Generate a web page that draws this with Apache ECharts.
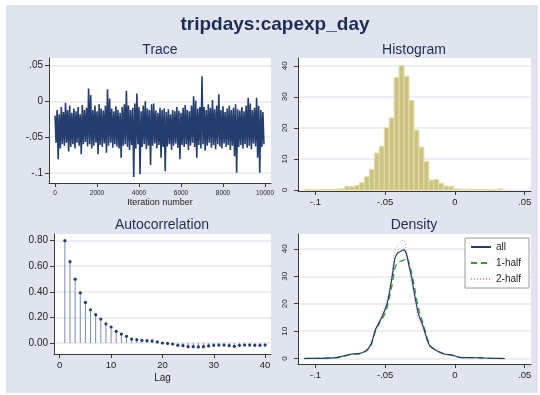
<!DOCTYPE html>
<html>
<head>
<meta charset="utf-8">
<title>tripdays:capexp_day</title>
<script src="https://cdn.jsdelivr.net/npm/echarts@6.0.0/dist/echarts.min.js"></script>
<style>
  html, body { margin: 0; padding: 0; background: #fff; }
  #chart { width: 540px; height: 395px; }
</style>
</head>
<body>
<div id="chart"></div>
<script>
// trace: highest / lowest draw in each block of 100 iterations
var traceStep = 100
var traceHi = [-0.02, -0.012, -0.018, -0.008, -0.015, -0.002, -0.012, -0.006, -0.016, -0.01,
  -0.014, -0.008, -0.018, -0.005, -0.012, -0.009, 0.018, 0.009, -0.012, -0.006,
  -0.014, -0.004, -0.01, -0.013, -0.006, 0.017, 0.004, -0.01, -0.014, -0.007,
  -0.012, -0.016, -0.008, -0.004, 0.015, -0.006, -0.012, -0.009, -0.003, 0.011,
  -0.008, -0.014, -0.006, 0.0, -0.01, -0.012, -0.004, -0.003, -0.013, -0.016,
  -0.009, -0.012, -0.01, -0.015, -0.011, -0.018, -0.012, -0.014, -0.008, -0.013,
  -0.016, -0.009, -0.005, -0.012, -0.014, -0.006, 0.007, 0.001, -0.01, -0.008,
  0.035, -0.008, -0.012, -0.004, -0.009, 0.002, -0.011, -0.006, 0.01, -0.012,
  -0.007, -0.015, -0.01, -0.006, -0.012, -0.009, -0.004, -0.011, -0.013, -0.008,
  -0.014, -0.006, 0.005, -0.003, -0.012, -0.009, 0.005, -0.006, -0.012, -0.015]
var traceLo = [-0.058, -0.081, -0.066, -0.06, -0.062, -0.058, -0.07, -0.064, -0.06, -0.066,
  -0.058, -0.062, -0.074, -0.06, -0.057, -0.063, -0.06, -0.066, -0.062, -0.058,
  -0.074, -0.061, -0.064, -0.059, -0.072, -0.062, -0.058, -0.065, -0.06, -0.063,
  -0.066, -0.079, -0.062, -0.06, -0.064, -0.068, -0.061, -0.106, -0.066, -0.06,
  -0.102, -0.064, -0.06, -0.067, -0.062, -0.089, -0.062, -0.059, -0.066, -0.061,
  -0.079, -0.064, -0.098, -0.063, -0.06, -0.068, -0.062, -0.059, -0.065, -0.081,
  -0.061, -0.064, -0.06, -0.068, -0.062, -0.058, -0.064, -0.079, -0.061, -0.066,
  -0.06, -0.069, -0.062, -0.058, -0.065, -0.061, -0.067, -0.06, -0.063, -0.066,
  -0.059, -0.064, -0.061, -0.068, -0.062, -0.077, -0.1, -0.064, -0.061, -0.066,
  -0.06, -0.065, -0.062, -0.067, -0.059, -0.063, -0.079, -0.1, -0.064, -0.06]
var traceXTicks = [0, 2000, 4000, 6000, 8000, 10000]
var traceYTicks = [-0.1, -0.05, 0, 0.05]
var traceYLabels = ['-.1', '-.05', '0', '.05']

// histogram, 40 bins
var histStart = -0.1075
var histWidth = 0.00355
var histHeights = [0.2, 0.1, 0.1, 0.2, 0.1, 0.2, 0.3, 0.4, 1.1, 1.2,
  1.5, 2.4, 4.3, 6.7, 11.9, 14.1, 20.1, 23.2, 36.2, 40.0,
  36.6, 28.8, 19.3, 13.8, 9.2, 3.2, 3.4, 2.2, 1.3, 1.2,
  0.4, 0.3, 0.2, 0.3, 0.2, 0.2, 0.1, 0.1, 0.1, 0.4]
var histYTicks = [0, 10, 20, 30, 40]
var paramXTicks = [-0.1, -0.05, 0, 0.05]
var paramXLabels = ['-.1', '-.05', '0', '.05']

// autocorrelation
var acfLags = [1, 2, 3, 4, 5, 6, 7, 8, 9, 10, 11, 12, 13, 14, 15, 16, 17, 18, 19, 20,
  21, 22, 23, 24, 25, 26, 27, 28, 29, 30, 31, 32, 33, 34, 35, 36, 37, 38, 39, 40]
var acfValues = [0.8, 0.636, 0.499, 0.392, 0.317, 0.26, 0.221, 0.187, 0.15, 0.125,
  0.091, 0.07, 0.052, 0.031, 0.026, 0.021, 0.018, 0.016, 0.008, 0.0,
  -0.003, -0.008, -0.018, -0.021, -0.029, -0.029, -0.031, -0.029, -0.023, -0.018,
  -0.016, -0.016, -0.021, -0.026, -0.018, -0.016, -0.016, -0.018, -0.018, -0.016]
var acfXTicks = [0, 10, 20, 30, 40]
var acfYTicks = [0, 0.2, 0.4, 0.6, 0.8]

// density
var densX = [-0.108, -0.1, -0.092, -0.085, -0.081, -0.075, -0.068, -0.063, -0.06, -0.057,
  -0.054, -0.05, -0.048, -0.045, -0.043, -0.041, -0.039, -0.037, -0.035, -0.033,
  -0.031, -0.029, -0.026, -0.023, -0.018, -0.013, -0.008, -0.002, 0.002, 0.006,
  0.011, 0.018, 0.025, 0.0357]
var densAll = [0.05, 0.1, 0.2, 0.4, 0.8, 1.6, 1.9, 3.2, 5.5, 10.5,
  13.4, 18, 21.3, 30, 36.5, 38.5, 39, 39.6, 38.5, 34,
  29.5, 23.5, 16, 12, 4.6, 2.9, 1.7, 1.3, 0.6, 0.4,
  0.4, 0.3, 0.15, 0.05]
var densHalf1 = [0.05, 0.1, 0.2, 0.4, 0.6, 1.5, 1.8, 3.0, 5.0, 10.0,
  13.0, 16.5, 20, 27, 33, 35, 35.5, 35.8, 36.8, 35,
  31, 26, 18, 13, 5, 3.0, 1.8, 1.2, 0.6, 0.4,
  0.4, 0.3, 0.15, 0.05]
var densHalf2 = [0.05, 0.1, 0.2, 0.4, 0.9, 1.7, 2.0, 3.4, 5.8, 10.8,
  14, 19.5, 23, 32, 39, 41.5, 42.5, 43.2, 40, 33,
  27, 21.5, 14, 11, 4.2, 2.8, 1.6, 1.4, 0.6, 0.4,
  0.4, 0.3, 0.15, 0.05]
var densYTicks = [0, 10, 20, 30, 40]

var FONT = '"Liberation Sans", Arial, sans-serif'
var NAVY = '#243d6e'
var AXIS = '#3a3a3a'
var GRIDLINE = '#e4e8f0'

function lookup(ticks, labels) {
  return function (v) {
    for (var i = 0; i < ticks.length; i++) {
      if (Math.abs(ticks[i] - v) < 1e-9) return labels[i]
    }
    return ''
  }
}

function axis(gridIndex, min, max, ticks, opts) {
  opts = opts || {}
  return {
    type: 'value',
    gridIndex: gridIndex,
    min: min,
    max: max,
    axisLine: { show: true, onZero: false, lineStyle: { color: AXIS, width: 1 } },
    axisTick: { show: true, length: 4, customValues: ticks, lineStyle: { color: AXIS } },
    axisLabel: {
      customValues: ticks,
      formatter: opts.formatter || function (v) { return String(v) },
      fontFamily: FONT,
      fontSize: opts.fontSize || 10,
      color: '#222',
      margin: opts.margin || 6,
      rotate: opts.rotate || 0
    },
    splitLine: { show: !!opts.grid, lineStyle: { color: GRIDLINE, width: 1.5 } },
    name: opts.name,
    nameLocation: 'middle',
    nameGap: opts.nameGap,
    nameTextStyle: { fontFamily: FONT, fontSize: opts.nameSize || 10, color: '#222' }
  }
}

var traceData = []
traceHi.forEach(function (h, i) {
  traceData.push([i * traceStep, h])
  traceData.push([i * traceStep + traceStep / 2, traceLo[i]])
})

var chart = echarts.init(document.getElementById('chart'))
chart.setOption({
  backgroundColor: '#fff',
  animation: false,
  graphic: [
    { type: 'rect', z: -100, silent: true, shape: { x: 6, y: 5, width: 532, height: 388 }, style: { fill: '#dfe4ef' } },
    { type: 'text', x: 275, y: 25, style: { text: 'tripdays:capexp_day', font: 'bold 19px ' + FONT, fill: '#1e2c55', textAlign: 'center', textVerticalAlign: 'middle' } },
    { type: 'text', x: 160, y: 50, style: { text: 'Trace', font: '14px ' + FONT, fill: '#1e2c55', textAlign: 'center', textVerticalAlign: 'middle' } },
    { type: 'text', x: 414, y: 50, style: { text: 'Histogram', font: '14px ' + FONT, fill: '#1e2c55', textAlign: 'center', textVerticalAlign: 'middle' } },
    { type: 'text', x: 162, y: 225, style: { text: 'Autocorrelation', font: '14px ' + FONT, fill: '#1e2c55', textAlign: 'center', textVerticalAlign: 'middle' } },
    { type: 'text', x: 414, y: 225, style: { text: 'Density', font: '14px ' + FONT, fill: '#1e2c55', textAlign: 'center', textVerticalAlign: 'middle' } }
  ],
  grid: [
    { left: 49, top: 58, width: 222, height: 125, show: true, backgroundColor: '#fff', borderWidth: 0 },
    { left: 298, top: 58, width: 233, height: 133, show: true, backgroundColor: '#fff', borderWidth: 0 },
    { left: 54, top: 234, width: 217, height: 120, show: true, backgroundColor: '#fff', borderWidth: 0 },
    { left: 298, top: 234, width: 233, height: 130, show: true, backgroundColor: '#fff', borderWidth: 0 }
  ],
  xAxis: [
    axis(0, -286, 10286, traceXTicks, { fontSize: 6.5, margin: 7, name: 'Iteration number', nameGap: 14, nameSize: 9 }),
    axis(1, -0.1125, 0.0545, paramXTicks, { formatter: lookup(paramXTicks, paramXLabels), fontSize: 9.5 }),
    axis(2, -1.12, 41.15, acfXTicks, { fontSize: 9.5, name: 'Lag', nameGap: 19 }),
    axis(3, -0.1125, 0.0545, paramXTicks, { formatter: lookup(paramXTicks, paramXLabels), fontSize: 9.5 })
  ],
  yAxis: [
    axis(0, -0.1143, 0.0607, traceYTicks, { formatter: lookup(traceYTicks, traceYLabels), grid: true }),
    axis(1, -0.3, 42.5, histYTicks, { rotate: 90, fontSize: 8, margin: 9, grid: true }),
    axis(2, -0.086, 0.852, acfYTicks, { formatter: function (v) { return v.toFixed(2) }, grid: true }),
    axis(3, -1.95, 45.4, densYTicks, { rotate: 90, fontSize: 8, margin: 9, grid: true })
  ],
  legend: {
    left: 465, top: 238, orient: 'vertical',
    itemWidth: 20, itemHeight: 10, itemGap: 6,
    padding: [4, 8, 4, 5],
    borderColor: '#9a9a9a', borderWidth: 1, borderRadius: 0, backgroundColor: '#fff',
    itemStyle: { color: 'transparent', borderWidth: 0, opacity: 0 },
    textStyle: { fontFamily: FONT, fontSize: 10, color: '#222' },
    data: ['all', '1-half', '2-half']
  },
  series: [
    {
      type: 'line', xAxisIndex: 0, yAxisIndex: 0, data: traceData,
      symbol: 'none', sampling: null, lineStyle: { color: NAVY, width: 1.6 }
    },
    {
      type: 'custom', xAxisIndex: 1, yAxisIndex: 1,
      data: histHeights.map(function (h, i) { return [histStart + i * histWidth, h] }),
      renderItem: function (params, api) {
        var p0 = api.coord([api.value(0), 0])
        var p1 = api.coord([api.value(0) + histWidth, api.value(1)])
        return {
          type: 'rect',
          shape: { x: p0[0], y: p1[1], width: p1[0] - p0[0], height: p0[1] - p1[1] },
          style: { fill: '#cbc284', stroke: '#e4dea8', lineWidth: 1 }
        }
      }
    },
    {
      type: 'custom', xAxisIndex: 2, yAxisIndex: 2,
      data: acfLags.map(function (l, i) { return [l, acfValues[i]] }),
      renderItem: function (params, api) {
        var p0 = api.coord([api.value(0), 0])
        var p1 = api.coord([api.value(0), api.value(1)])
        return {
          type: 'group',
          children: [
            { type: 'line', shape: { x1: p0[0], y1: p0[1], x2: p1[0], y2: p1[1] }, style: { stroke: '#7b8bad', lineWidth: 1 } },
            { type: 'circle', shape: { cx: p1[0], cy: p1[1], r: 1.6 }, style: { fill: NAVY } }
          ]
        }
      }
    },
    {
      name: 'all', type: 'line', xAxisIndex: 3, yAxisIndex: 3, smooth: 0.3, symbol: 'none',
      data: densX.map(function (x, i) { return [x, densAll[i]] }),
      itemStyle: { color: NAVY }, lineStyle: { color: NAVY, width: 1.2 }, z: 3
    },
    {
      name: '1-half', type: 'line', xAxisIndex: 3, yAxisIndex: 3, smooth: 0.3, symbol: 'none',
      data: densX.map(function (x, i) { return [x, densHalf1[i]] }),
      itemStyle: { color: '#3a9a3a' }, lineStyle: { color: '#3a9a3a', width: 1.3, type: [6, 4] }, z: 2
    },
    {
      name: '2-half', type: 'line', xAxisIndex: 3, yAxisIndex: 3, smooth: 0.3, symbol: 'none',
      data: densX.map(function (x, i) { return [x, densHalf2[i]] }),
      itemStyle: { color: '#d98fd9' }, lineStyle: { color: '#d98fd9', width: 1, type: [1, 2] }, z: 1
    }
  ]
})
</script>
</body>
</html>
